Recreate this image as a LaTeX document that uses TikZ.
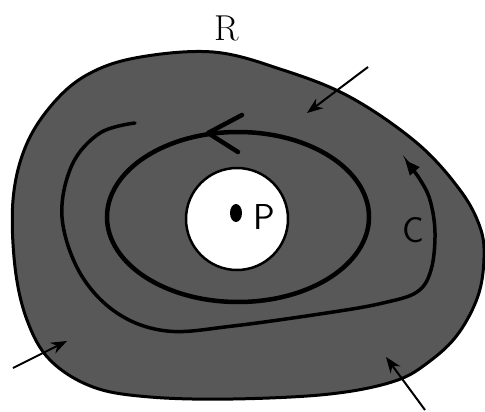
\documentclass[tikz,border=0pt]{standalone}
\usepackage{fontspec}
\usetikzlibrary{arrows.meta}
\definecolor{regiongray}{RGB}{88,88,88}
\begin{document}
\begin{tikzpicture}[x=1pt,y=-1pt,
    inarrow/.style={line width=2pt,-{Stealth[length=16pt,width=12pt]}},
    lbl/.style={font=\sffamily\fontsize{36}{36}\selectfont}]
  \useasboundingbox (0,0) rectangle (485,412);
  % region R
  \draw[line width=3pt,fill=regiongray] plot[smooth cycle,tension=0.6] coordinates {
    (213,52) (283,70) (350,97) (417,143) (460,190) (480,227) (484,258)
    (478,296) (458,334) (430,361) (395,381) (330,394) (233,399) (150,397)
    (93,387) (50,360) (27,320) (15,267) (13,200) (25,148) (50,107) (85,76) (135,58)};
  \node[font=\fontsize{36}{36}\selectfont] (R) at (227,28) {R};
  % hole round P
  \draw[line width=2.5pt,fill=white] (237,219) circle (51pt);
  \fill (236,213) ellipse (6pt and 9pt);
  \node[lbl] (P) at (264,217) {P};
  % inner loop
  \draw[line width=4.5pt] (238,217) ellipse (131pt and 85pt);
  \draw[line width=4.5pt,line cap=round,line join=round] (242,115) -- (208,133) -- (238,152);
  % curve C
  \draw[line width=3.5pt,line cap=round,-{Triangle[length=15pt,width=12pt]}] plot[smooth,tension=0.6] coordinates {
    (135,123) (100,133) (72,165) (62,217) (80,273) (117,313) (167,331)
    (233,326) (333,312) (383,303) (417,292) (431,270) (435,233) (430,200) (419,178) (405,160)};
  \node[lbl] (C) at (413,230) {C};
  % arrows into R
  \coordinate (a1s) at (368,67);  \coordinate (a1e) at (307,113);
  \coordinate (a2s) at (13,368);  \coordinate (a2e) at (67,341);
  \coordinate (a3s) at (425,410); \coordinate (a3e) at (386,357);
  \draw[inarrow] (a1s) -- (a1e);
  \draw[inarrow] (a2s) -- (a2e);
  \draw[inarrow] (a3s) -- (a3e);
\end{tikzpicture}
\end{document}
